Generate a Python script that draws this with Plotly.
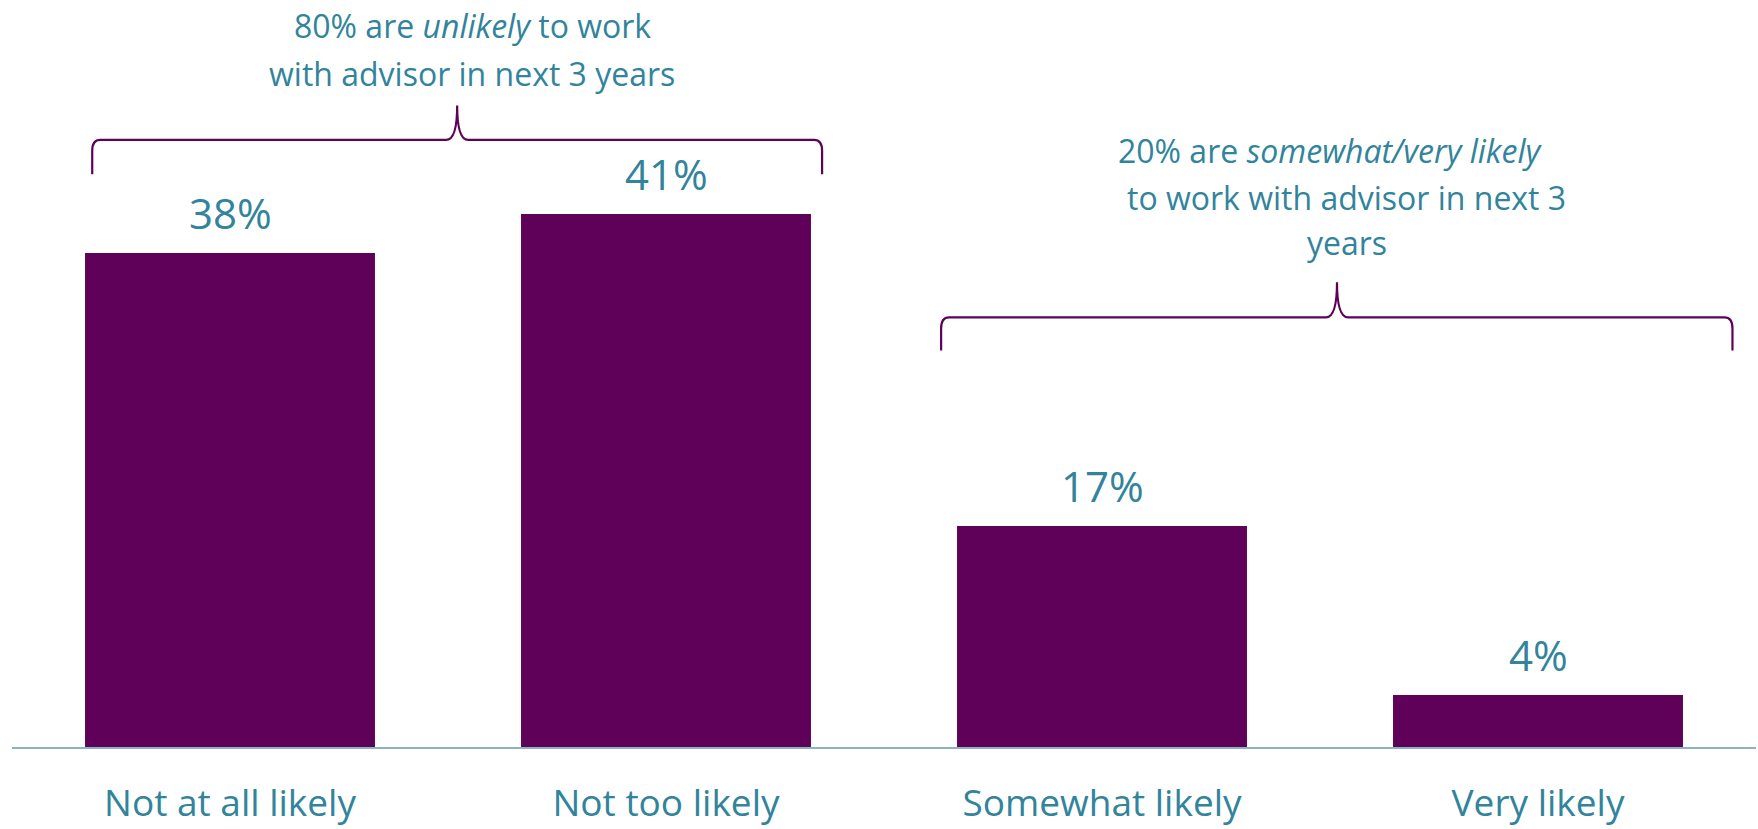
import plotly.graph_objects as go

# Survey responses: likelihood of working with an advisor in the next 3 years
categories = ["Not at all likely", "Not too likely", "Somewhat likely", "Very likely"]
shares = [38, 41, 17, 4]
value_labels = ["38%", "41%", "17%", "4%"]

group_unlikely = ["80% are <i>unlikely</i> to work", "with advisor in next 3 years"]
group_likely = ["20% are <i>somewhat/very likely</i>", "to work with advisor in next 3", "years"]

BAR = "#5F0059"
TEAL = "#31849B"
AXIS = "#8FB2BF"
FONT = "Open Sans"

W, H = 1758, 829
PX_PER_UNIT = 13.0
Y_MAX = 57
M_L, M_R, M_B = 12, 2, 82
M_T = H - M_B - Y_MAX * PX_PER_UNIT

fig = go.Figure(
    go.Bar(
        x=list(range(len(categories))),
        y=shares,
        marker=dict(color=BAR, line=dict(width=0)),
        hoverinfo="skip",
    )
)

# value labels above the bars
for i, (v, lab) in enumerate(zip(shares, value_labels)):
    fig.add_annotation(
        x=i, y=v, text=lab, showarrow=False, yanchor="middle", yshift=41,
        font=dict(family=FONT, size=42, color=TEAL),
    )


def brace(x0, x1, xt, y_bar, y_end, y_tip):
    """Curly-brace path in data units (horizontal bar with central spike)."""
    dx = 8 / 436
    dy = 11 / PX_PER_UNIT
    d = 11 / 436
    return (
        f"M {x0},{y_end} L {x0},{y_bar - dy} Q {x0},{y_bar} {x0 + dx},{y_bar} "
        f"L {xt - d},{y_bar} Q {xt},{y_bar} {xt},{y_tip} "
        f"Q {xt},{y_bar} {xt + d},{y_bar} "
        f"L {x1 - dx},{y_bar} Q {x1},{y_bar} {x1},{y_bar - dy} L {x1},{y_end}"
    )


fig.add_shape(type="path", xref="x", yref="y",
              path=brace(-0.316, 1.358, 0.521, 46.7, 44.05, 49.35),
              line=dict(color=BAR, width=2.2))
fig.add_shape(type="path", xref="x", yref="y",
              path=brace(1.631, 3.446, 2.539, 33.05, 30.5, 35.75),
              line=dict(color=BAR, width=2.2))

# group captions
for txt, x, y in zip(group_unlikely, [0.556, 0.556], [55.5, 51.8]):
    fig.add_annotation(x=x, y=y, text=txt, showarrow=False, yanchor="middle",
                       font=dict(family=FONT, size=32, color=TEAL))
for txt, x, y in zip(group_likely, [2.525, 2.561, 2.561], [45.9, 42.3, 38.8]):
    fig.add_annotation(x=x, y=y, text=txt, showarrow=False, yanchor="middle",
                       font=dict(family=FONT, size=32, color=TEAL))

fig.update_layout(
    width=W, height=H,
    margin=dict(l=M_L, r=M_R, t=M_T, b=M_B, pad=0, autoexpand=False),
    paper_bgcolor="white", plot_bgcolor="white",
    bargap=0.335, showlegend=False,
    font=dict(family=FONT, color=TEAL),
)
fig.update_xaxes(
    range=[-0.5, len(categories) - 0.5],
    tickvals=list(range(len(categories))), ticktext=categories,
    tickfont=dict(family=FONT, size=37, color=TEAL),
    showline=True, linecolor=AXIS, linewidth=2,
    showgrid=False, zeroline=False, ticks="", ticklabelstandoff=23,
    automargin=False,
)
fig.update_yaxes(range=[0, Y_MAX], visible=False, showgrid=False, zeroline=False,
                 automargin=False)

fig.write_html("out.html")
